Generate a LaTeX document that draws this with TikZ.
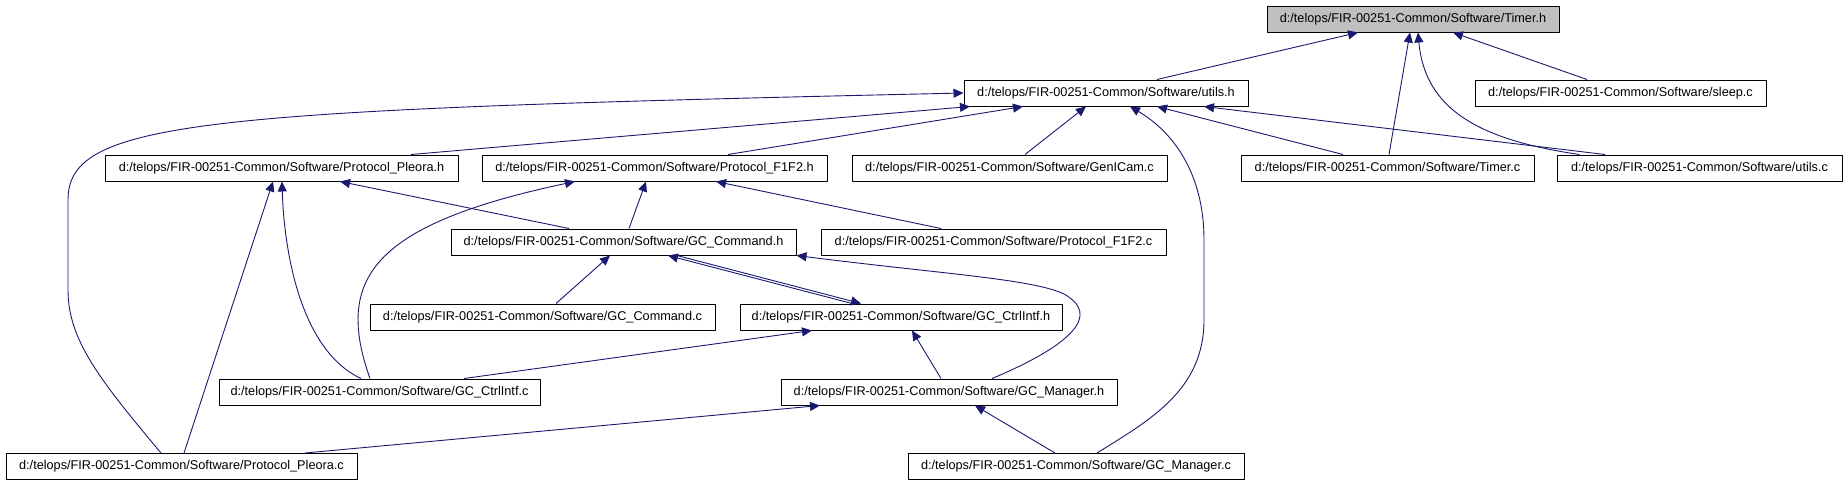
\documentclass[tikz,border=0pt]{standalone}
\usepackage{fontspec}
\setmainfont{Liberation Sans}
\usetikzlibrary{arrows.meta}
\definecolor{edgeblue}{HTML}{191970}
\definecolor{rootgray}{HTML}{BFBFBF}
\begin{document}
\begin{tikzpicture}[x=1pt,y=-1pt,>={Triangle[length=10pt,width=9pt]}, font=\fontsize{12.7}{15}\selectfont, line join=round,
	file/.style={draw=black,line width=1pt,fill=white,minimum height=26pt,inner sep=0pt},
	dep/.style={->,draw=edgeblue,line width=0.9pt}]
			\useasboundingbox (0,0) rectangle (1848,485);
			\node[file,minimum width=292pt,fill=rootgray] (Th) at (1413,19) {d:/telops/FIR-00251-Common/Software/Timer.h};
			\node[file,minimum width=284pt] (Uh) at (1106,93) {d:/telops/FIR-00251-Common/Software/utils.h};
			\node[file,minimum width=291pt] (Sc) at (1620.5,93) {d:/telops/FIR-00251-Common/Software/sleep.c};
			\node[file,minimum width=353pt] (PPh) at (281.5,168) {d:/telops/FIR-00251-Common/Software/Protocol\_Pleora.h};
			\node[file,minimum width=345pt] (PFh) at (654.5,168) {d:/telops/FIR-00251-Common/Software/Protocol\_F1F2.h};
			\node[file,minimum width=315pt] (GIc) at (1009.5,168) {d:/telops/FIR-00251-Common/Software/GenICam.c};
			\node[file,minimum width=293pt] (Tc) at (1387.5,168) {d:/telops/FIR-00251-Common/Software/Timer.c};
			\node[file,minimum width=285pt] (Uc) at (1699.5,168) {d:/telops/FIR-00251-Common/Software/utils.c};
			\node[file,minimum width=345pt] (GCh) at (623.5,242) {d:/telops/FIR-00251-Common/Software/GC\_Command.h};
			\node[file,minimum width=345pt] (PFc) at (993.5,242) {d:/telops/FIR-00251-Common/Software/Protocol\_F1F2.c};
			\node[file,minimum width=345pt] (GCc) at (542.5,317) {d:/telops/FIR-00251-Common/Software/GC\_Command.c};
			\node[file,minimum width=322pt] (CIh) at (901,317) {d:/telops/FIR-00251-Common/Software/GC\_CtrlIntf.h};
			\node[file,minimum width=321pt] (CIc) at (379.5,392) {d:/telops/FIR-00251-Common/Software/GC\_CtrlIntf.c};
			\node[file,minimum width=336pt] (GMh) at (949,392) {d:/telops/FIR-00251-Common/Software/GC\_Manager.h};
			\node[file,minimum width=351pt] (PPc) at (181.5,466.5) {d:/telops/FIR-00251-Common/Software/Protocol\_Pleora.c};
			\node[file,minimum width=336pt] (GMc) at (1076,466.5) {d:/telops/FIR-00251-Common/Software/GC\_Manager.c};
			\draw[dep] ([xshift=51pt]Uh.north) -- ([xshift=-55pt]Th.south);
			\draw[dep] ([xshift=1.5pt]Tc.north) -- ([xshift=-3pt]Th.south);
			\draw[dep] ([xshift=-120pt]Uc.north) .. controls (1480,140) and (1425,110) .. ([xshift=5pt]Th.south);
			\draw[dep] ([xshift=-33.5pt]Sc.north) -- ([xshift=40pt]Th.south);
			\draw[dep] ([xshift=-20.5pt]PPc.north) .. controls (100,380) and (68,340) .. (68,290) -- (68,200) .. controls (68,120) and (200,110) .. (Uh.west);
			\draw[dep] ([xshift=129.5pt]PPh.north) -- ([xshift=-136pt]Uh.south);
			\draw[dep] ([xshift=73.5pt]PFh.north) -- ([xshift=-83pt]Uh.south);
			\draw[dep] ([xshift=15.5pt]GIc.north) -- ([xshift=-20pt]Uh.south);
			\draw[dep] ([xshift=21pt]GMc.north) .. controls (1150,420) and (1204,390) .. (1204,320) -- (1204,240) .. controls (1204,170) and (1170,130) .. ([xshift=24pt]Uh.south);
			\draw[dep] ([xshift=-44.5pt]Tc.north) -- ([xshift=51pt]Uh.south);
			\draw[dep] ([xshift=-94.5pt]Uc.north) -- ([xshift=98pt]Uh.south);
			\draw[dep] ([xshift=-54.5pt]GCh.north) -- ([xshift=58.5pt]PPh.south);
			\draw[dep] ([xshift=-18.5pt]CIc.north) .. controls (300,350) and (284,250) .. ([xshift=0.5pt]PPh.south);
			\draw[dep] ([xshift=2.5pt]PPc.north) -- ([xshift=-8.5pt]PPh.south);
			\draw[dep] ([xshift=5.5pt]GCh.north) -- ([xshift=-8.5pt]PFh.south);
			\draw[dep] ([xshift=-9.5pt]CIc.north) .. controls (335,280) and (370,225) .. ([xshift=-79.5pt]PFh.south);
			\draw[dep] ([xshift=-52.5pt]PFc.north) -- ([xshift=61.5pt]PFh.south);
			\draw[dep] ([xshift=13.5pt]GCc.north) -- ([xshift=-13.5pt]GCh.south);
			\draw[dep] ([xshift=-49pt]CIh.north) -- ([xshift=44.5pt]GCh.south);
			\draw[dep] ([xshift=53.5pt]GCh.south) -- ([xshift=-40pt]CIh.north);
			\draw[dep] ([xshift=43pt]GMh.north) .. controls (1060,350) and (1100,320) .. (1070,298) .. controls (1050,280) and (950,275) .. (GCh.south east);
			\draw[dep] ([xshift=84.5pt]CIc.north) -- ([xshift=-89pt]CIh.south);
			\draw[dep] ([xshift=-8pt]GMh.north) -- ([xshift=11pt]CIh.south);
			\draw[dep] ([xshift=123.5pt]PPc.north) -- ([xshift=-129pt]GMh.south);
			\draw[dep] ([xshift=-21pt]GMc.north) -- ([xshift=26pt]GMh.south);
		\end{tikzpicture}
\end{document}
